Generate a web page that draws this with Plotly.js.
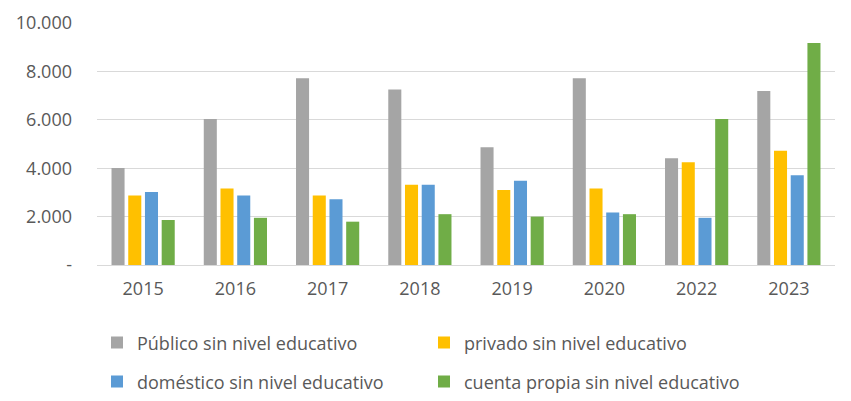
<!DOCTYPE html>
<html>
<head>
<meta charset="utf-8">
<script src="https://cdn.plot.ly/plotly-3.0.1.min.js"></script>
<style>html,body{margin:0;padding:0;background:#fff;}#chart{width:851px;height:401px;}</style>
</head>
<body>
<div id="chart"></div>
<script>
var years = ["2015", "2016", "2017", "2018", "2019", "2020", "2022", "2023"];
var publico = [4010, 6030, 7720, 7250, 4870, 7720, 4410, 7190];
var privado = [2870, 3160, 2870, 3320, 3100, 3160, 4250, 4720];
var domestico = [3020, 2870, 2720, 3320, 3480, 2170, 1950, 3710];
var cuentaPropia = [1860, 1950, 1790, 2100, 2000, 2100, 6030, 9170];
var seriesNames = ["Público sin nivel educativo", "privado sin nivel educativo", "doméstico sin nivel educativo", "cuenta propia sin nivel educativo"];
var seriesColors = ["#A5A5A5", "#FFC000", "#5B9BD5", "#70AD47"];
var yTickVals = [0, 2000, 4000, 6000, 8000, 10000];
var yTickText = ["-", "2.000", "4.000", "6.000", "8.000", "10.000"];

var allValues = [publico, privado, domestico, cuentaPropia];
var legendIds = ["legend", "legend", "legend2", "legend2"];
var traces = allValues.map(function (vals, i) {
  return {
    type: "bar",
    x: years,
    y: vals,
    name: seriesNames[i],
    marker: {color: seriesColors[i]},
    legend: legendIds[i],
    hoverinfo: "none"
  };
});

var legendFont = {family: "Open Sans, sans-serif", size: 18, color: "#595959"};
var layout = {
  width: 851,
  height: 401,
  margin: {l: 97, r: 16, t: 23, b: 136, autoexpand: false},
  paper_bgcolor: "#ffffff",
  plot_bgcolor: "#ffffff",
  barmode: "group",
  bargap: 0.275,
  bargroupgap: 0.22,
  font: {family: "Open Sans, sans-serif", color: "#595959"},
  xaxis: {
    type: "category",
    tickfont: {size: 18, color: "#595959"},
    showgrid: false,
    showline: false,
    ticks: "",
    ticklabelstandoff: 11
  },
  yaxis: {
    range: [0, 10000],
    tickvals: yTickVals,
    ticktext: yTickText,
    tickfont: {size: 18, color: "#595959"},
    showgrid: true,
    gridcolor: "#D9D9D9",
    gridwidth: 1,
    zeroline: true,
    zerolinecolor: "#D9D9D9",
    zerolinewidth: 1,
    showline: false,
    ticks: "",
    ticklabelstandoff: 24
  },
  legend: {
    orientation: "h",
    x: 0, xanchor: "left",
    xref: "paper",
    y: -0.322, yanchor: "middle",
    entrywidth: 282,
    entrywidthmode: "pixels",
    font: legendFont,
    bgcolor: "rgba(0,0,0,0)"
  },
  legend2: {
    orientation: "h",
    x: 0, xanchor: "left",
    xref: "paper",
    y: -0.483, yanchor: "middle",
    entrywidth: 282,
    entrywidthmode: "pixels",
    font: legendFont,
    bgcolor: "rgba(0,0,0,0)"
  },
  showlegend: true
};

Plotly.newPlot("chart", traces, layout, {displayModeBar: false, staticPlot: true});
</script>
</body>
</html>
